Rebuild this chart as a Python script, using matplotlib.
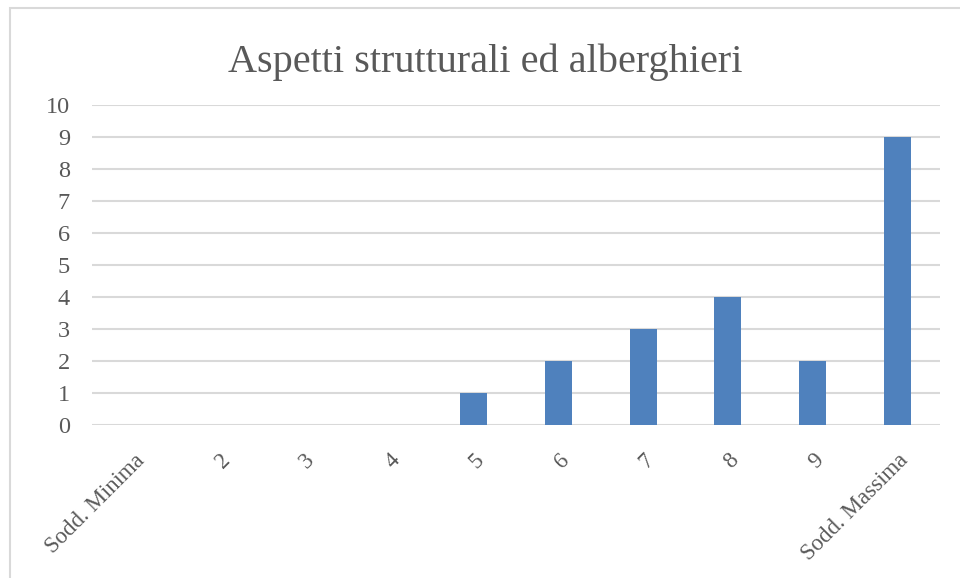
import matplotlib.pyplot as plt
from matplotlib.patches import Rectangle

categories = ['Sodd. Minima', '2', '3', '4', '5', '6', '7', '8', '9', 'Sodd. Massima']
values = [0, 0, 0, 0, 1, 2, 3, 4, 2, 9]
yticks = list(range(0, 11))

plt.rcParams['font.family'] = ['Liberation Serif', 'DejaVu Serif']
txt = '#595959'

fig = plt.figure(figsize=(9.6, 5.78), dpi=100)
ax = fig.add_axes([0.096, 0.2647, 0.883, 0.5536])

x = range(len(categories))
ax.bar(x, values, width=0.32, color='#4F81BD', zorder=3)

ax.set_ylim(0, 10)
ax.set_xlim(-0.5, len(categories) - 0.5)
ax.set_yticks(yticks)
ax.yaxis.grid(True, color='#D9D9D9', linewidth=1.5, zorder=0)
ax.set_xticks(list(x))
ax.set_xticklabels(categories, rotation=45, ha='right', rotation_mode='anchor')
ax.tick_params(axis='y', length=0, labelsize=17.5, colors=txt, pad=16)
ax.tick_params(axis='x', length=0, labelsize=16.5, colors=txt, pad=18)
for s in ax.spines.values():
    s.set_visible(False)

fig.text(0.505, 0.893, 'Aspetti strutturali ed alberghieri', ha='center', va='center',
         fontsize=29, color=txt)

# chart border
fig.patches.append(Rectangle((10 / 960, -0.01), 1.0, 1 - 8 / 578 + 0.01, transform=fig.transFigure,
                             fill=False, edgecolor='#D9D9D9', linewidth=1.5))

fig.savefig('out.png', dpi=100)
